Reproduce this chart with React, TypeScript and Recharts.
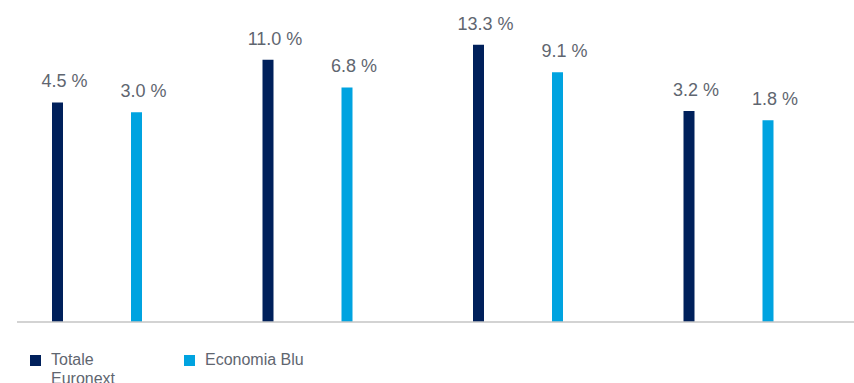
import React from 'react';
import { BarChart, Bar, XAxis, YAxis, Legend, LabelList } from 'recharts';

const CATEGORIES = ['Periodo 1', 'Periodo 2', 'Periodo 3', 'Periodo 4'];
const TOTALE_EURONEXT = [4.5, 11.0, 13.3, 3.2];
const ECONOMIA_BLU = [3.0, 6.8, 9.1, 1.8];
const SERIES_NAMES = ['Totale Euronext', 'Economia Blu'];
const Y_DOMAIN: [number, number] = [-29, 18];

const NAVY = '#00205B';
const LIGHT_BLUE = '#00A3E0';
const TEXT = '#5f6670';
const FONT = '"Liberation Sans", Arial, sans-serif';

const data = CATEGORIES.map((name, i) => ({
  name,
  totale: TOTALE_EURONEXT[i],
  blu: ECONOMIA_BLU[i],
}));

const renderLabel = (props: any) => {
  const { x, y, width, value } = props;
  return (
    <text
      x={x + width / 2 + 7}
      y={y - 15}
      textAnchor="middle"
      fontSize={18}
      fontFamily={FONT}
      fill={TEXT}
    >
      {Number(value).toFixed(1)} %
    </text>
  );
};

const renderLegend = () => {
  const items = [
    { name: SERIES_NAMES[0], color: NAVY, left: 30, textWidth: 90 },
    { name: SERIES_NAMES[1], color: LIGHT_BLUE, left: 184, textWidth: 160 },
  ];
  return (
    <div style={{ position: 'relative', height: 33, fontFamily: FONT, fontSize: 16, lineHeight: '18.5px', color: TEXT }}>
      {items.map(it => (
        <div key={it.name} style={{ position: 'absolute', left: it.left, top: 0, display: 'flex' }}>
          <div style={{ width: 11, height: 11, background: it.color, marginTop: 4, marginRight: 10, flexShrink: 0 }} />
          <div style={{ width: it.textWidth }}>{it.name}</div>
        </div>
      ))}
    </div>
  );
};

export default function App() {
  return (
    <div style={{ position: 'absolute', left: 0, top: 0, width: 854, height: 383, background: '#fff', overflow: 'hidden' }}>
      <BarChart
        width={854}
        height={383}
        data={data}
        margin={{ top: 14, right: 0, bottom: 27, left: 17 }}
        barGap={68}
      >
        <XAxis
          dataKey="name"
          height={1}
          tick={false}
          tickLine={false}
          axisLine={{ stroke: '#c4c4c4', strokeWidth: 1.5 }}
          padding={{ left: -25, right: 20 }}
        />
        <YAxis hide domain={Y_DOMAIN} allowDataOverflow />
        <Legend
          verticalAlign="bottom"
          content={renderLegend}
          wrapperStyle={{ top: 351, left: 0, bottom: 'auto', width: 400, height: 33 }}
        />
        <Bar
          dataKey={(d: any) => [Y_DOMAIN[0], d.totale]}
          name={SERIES_NAMES[0]}
          fill={NAVY}
          barSize={11}
          isAnimationActive={false}
        >
          <LabelList dataKey="totale" content={renderLabel} />
        </Bar>
        <Bar
          dataKey={(d: any) => [Y_DOMAIN[0], d.blu]}
          name={SERIES_NAMES[1]}
          fill={LIGHT_BLUE}
          barSize={11}
          isAnimationActive={false}
        >
          <LabelList dataKey="blu" content={renderLabel} />
        </Bar>
      </BarChart>
    </div>
  );
}
